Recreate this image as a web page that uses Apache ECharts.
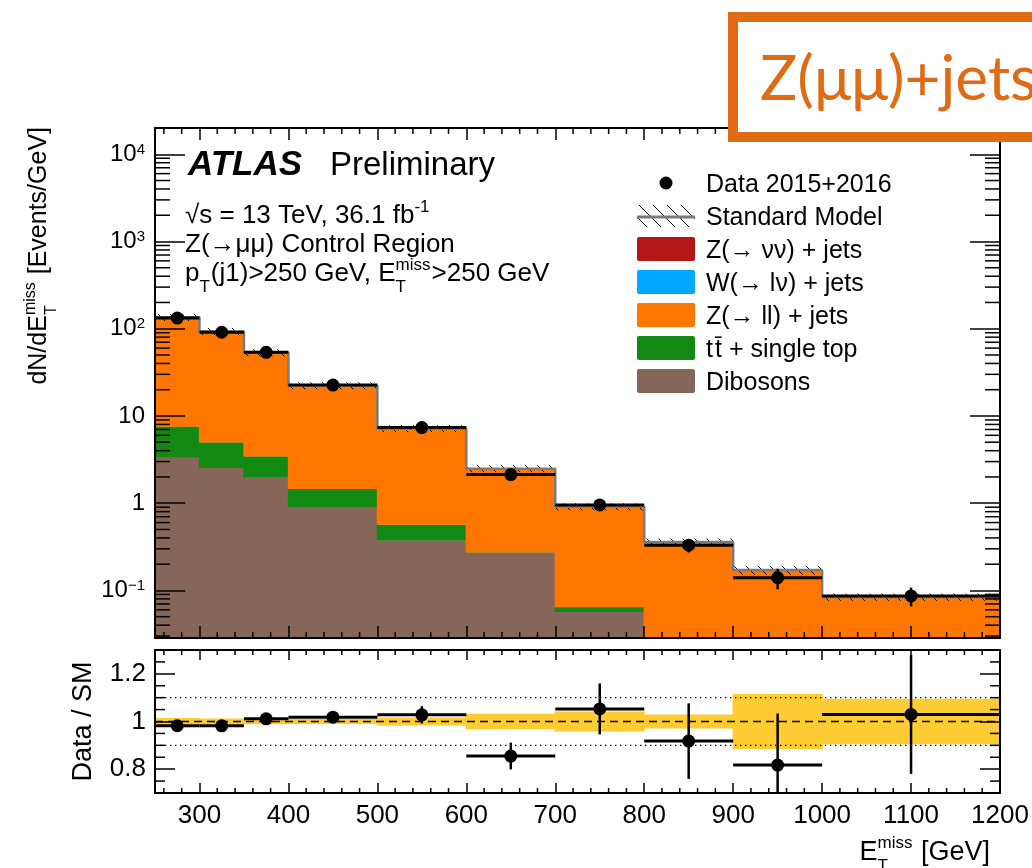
<!DOCTYPE html>
<html><head><meta charset="utf-8">
<script src="https://cdn.jsdelivr.net/npm/echarts@6/dist/echarts.min.js"></script>
<style>html,body{margin:0;padding:0;background:#fff}#c{width:1032px;height:868px}</style>
</head><body><div id="c"></div>
<script>
// ---------------- data ----------------
const binEdges = [250, 300, 350, 400, 500, 600, 700, 800, 900, 1000, 1200];
const diboson        = [3.39, 2.56, 1.97, 0.907, 0.377, 0.266, 0.057, 0.020, 0.012, 0.006];
const ttbarSingleTop = [4.21, 2.43, 1.48, 0.563, 0.193, 0.008, 0.0076, 0.004, 0.002, 0.001];
const zllJets        = [127.15, 87.76, 49.47, 20.70, 6.58, 2.213, 0.842, 0.335, 0.157, 0.077];
const wlnuJets       = [0.25, 0.15, 0.08, 0.03, 0.01, 0.004, 0.0015, 0.0006, 0.0003, 0.0001];
const znunuJets      = [0, 0, 0, 0, 0, 0, 0, 0, 0, 0];
const smRelUnc       = [0.015, 0.013, 0.012, 0.011, 0.017, 0.033, 0.042, 0.029, 0.115, 0.095];
const dataValues     = [132.6, 91.2, 53.6, 22.6, 7.36, 2.13, 0.956, 0.330, 0.140, 0.0866];
const dataErrors     = [1.6, 1.4, 1.0, 0.47, 0.26, 0.14, 0.097, 0.057, 0.037, 0.021];

const xTickValues = [300, 400, 500, 600, 700, 800, 900, 1000, 1100, 1200];
const xTickLabels = ['300', '400', '500', '600', '700', '800', '900', '1000', '1100', '1200'];
const logTickExponents = [-1, 0, 1, 2, 3, 4];
const logTickLabels = ['{b|10}{s|−1}', '{b|1}', '{b|10}', '{b|10}{s|2}', '{b|10}{s|3}', '{b|10}{s|4}'];
const ratioTickValues = [0.8, 1.0, 1.2];
const ratioTickLabels = ['0.8', '1', '1.2'];
const ratioMinorTicks = [0.75, 0.85, 0.9, 0.95, 1.05, 1.1, 1.15, 1.25];
const ratioRefLines = [1.0, 0.9, 1.1];

const legendLabels = ['Data 2015+2016', 'Standard Model', 'Z(→ νν) + jets', 'W(→ lν) + jets', 'Z(→ ll) + jets', 't\u200At\u0304 + single top', 'Dibosons'];

// ---------------- styling ----------------
const FONT = "'Liberation Sans', Arial, Helvetica, sans-serif";
const yMinMain = 0.0285, yMaxMain = 20000;
const components = [
  { name: 'Dibosons', color: '#87665a', values: diboson },
  { name: 'tt + single top', color: '#128912', values: ttbarSingleTop },
  { name: 'Z(ll)+jets', color: '#ff7700', values: zllJets },
  { name: 'W(lv)+jets', color: '#00a8ff', values: wlnuJets },
  { name: 'Z(vv)+jets', color: '#b31717', values: znunuJets }
];
const legendColors = [null, null, '#b31717', '#00a8ff', '#ff7700', '#128912', '#87665a'];

const nBins = binEdges.length - 1;
const centers = [], totals = [];
for (let i = 0; i < nBins; i++) {
  centers.push((binEdges[i] + binEdges[i + 1]) / 2);
  let s = 0; components.forEach(c => s += c.values[i]); totals.push(s);
}

// ---------------- helpers ----------------
function yPix(api, cs, v) {
  if (!(v > 0)) return cs.y + cs.height;
  const p = api.coord([binEdges[0], v])[1];
  return Math.max(cs.y - 10, Math.min(cs.y + cs.height, p));
}
function xPix(api, v) { return api.coord([v, 1])[0]; }

const series = [];
// stacked fills
let cum = new Array(nBins).fill(0);
components.forEach((c, k) => {
  const data = [];
  for (let i = 0; i < nBins; i++) {
    data.push([binEdges[i], binEdges[i + 1], cum[i], cum[i] + c.values[i]]);
    cum[i] += c.values[i];
  }
  series.push({
    type: 'custom', name: c.name, xAxisIndex: 0, yAxisIndex: 0, z: 2, clip: true,
    encode: { x: [0, 1], y: [2, 3] }, data,
    renderItem(params, api) {
      const cs = params.coordSys;
      const x0 = xPix(api, api.value(0)), x1 = xPix(api, api.value(1));
      const yl = yPix(api, cs, api.value(2)), yh = yPix(api, cs, api.value(3));
      if (yl - yh <= 0.01) return;
      return { type: 'rect', shape: { x: x0 - 0.6, y: yh, width: x1 - x0 + 1.2, height: yl - yh + 0.3 }, style: { fill: c.color } };
    }
  });
});

// hatched SM uncertainty band (main)
series.push({
  type: 'custom', xAxisIndex: 0, yAxisIndex: 0, z: 3, clip: true,
  encode: { x: [0, 1], y: 2 },
  data: totals.map((t, i) => [binEdges[i], binEdges[i + 1], t, smRelUnc[i]]),
  renderItem(params, api) {
    const cs = params.coordSys;
    const x0 = xPix(api, api.value(0)), x1 = xPix(api, api.value(1));
    const t = api.value(2), u = api.value(3);
    const yc = yPix(api, cs, t);
    let yt = yPix(api, cs, t * (1 + u)), yb = yPix(api, cs, t * (1 - u));
    if (yc - yt < 3.5) yt = yc - 3.5;
    if (yb - yc < 3.5) yb = yc + 3.5;
    const sp = 12, children = [];
    for (let cc = Math.ceil((yt - x1) / sp) * sp; cc <= yb - x0; cc += sp) {
      const xa = Math.max(x0, yt - cc), xb = Math.min(x1, yb - cc);
      if (xb > xa) children.push({ type: 'line', shape: { x1: xa, y1: xa + cc, x2: xb, y2: xb + cc }, style: { stroke: '#000', lineWidth: 1 } });
    }
    return { type: 'group', children };
  }
});

// SM total outline
const totLine = totals.map((t, i) => [binEdges[i], t]);
totLine.push([binEdges[nBins], totals[nBins - 1]]);
series.push({
  type: 'line', xAxisIndex: 0, yAxisIndex: 0, z: 4, step: 'end', symbol: 'none',
  data: totLine, lineStyle: { color: '#7a7a7a', width: 2.5 }, silent: true
});

function dataBarsSeries(xi, yi, vals, errs) {
  return {
    type: 'custom', xAxisIndex: xi, yAxisIndex: yi, z: 5, clip: true,
    encode: { x: [0, 1], y: 3 },
    data: vals.map((v, i) => [binEdges[i], binEdges[i + 1], centers[i], v, errs[i]]),
    renderItem(params, api) {
      const cs = params.coordSys;
      const x0 = xPix(api, api.value(0)), x1 = xPix(api, api.value(1)), xc = xPix(api, api.value(2));
      const v = api.value(3), e = api.value(4);
      const yc = api.coord([api.value(2), v])[1];
      const yt = yPix(api, cs, v + e), yb = yPix(api, cs, v - e);
      return { type: 'group', children: [
        { type: 'line', shape: { x1: x0, y1: yc, x2: x1, y2: yc }, style: { stroke: '#000', lineWidth: 3 } },
        { type: 'line', shape: { x1: xc, y1: yt, x2: xc, y2: yb }, style: { stroke: '#000', lineWidth: 2.5 } }
      ] };
    }
  };
}
series.push(dataBarsSeries(0, 0, dataValues, dataErrors));
series.push({
  type: 'scatter', xAxisIndex: 0, yAxisIndex: 0, z: 6, symbol: 'circle', symbolSize: 13,
  itemStyle: { color: '#000', opacity: 1 }, data: dataValues.map((v, i) => [centers[i], v]), silent: true
});

// ratio panel
const ratio = dataValues.map((v, i) => v / totals[i]);
const ratioErr = dataErrors.map((e, i) => e / totals[i]);
series.push({
  type: 'custom', xAxisIndex: 2, yAxisIndex: 2, z: 2, clip: true,
  encode: { x: [0, 1], y: [2, 3] },
  data: smRelUnc.map((u, i) => [binEdges[i], binEdges[i + 1], 1 - u, 1 + u]),
  renderItem(params, api) {
    const x0 = xPix(api, api.value(0)), x1 = xPix(api, api.value(1));
    const yl = api.coord([api.value(0), api.value(2)])[1], yh = api.coord([api.value(0), api.value(3)])[1];
    return { type: 'rect', shape: { x: x0 - 0.6, y: yh, width: x1 - x0 + 1.2, height: yl - yh }, style: { fill: '#ffcc33' } };
  }
});
series.push({
  type: 'custom', xAxisIndex: 2, yAxisIndex: 2, z: 3, clip: true,
  encode: { x: 0, y: 1 },
  data: ratioRefLines.map((v, i) => [binEdges[0], v, i === 0 ? 1 : 0]),
  renderItem(params, api) {
    const cs = params.coordSys;
    const y = api.coord([binEdges[0], api.value(1)])[1];
    const dashed = api.value(2) === 1;
    return { type: 'line', shape: { x1: cs.x, y1: y, x2: cs.x + cs.width, y2: y },
      style: { stroke: '#000', lineWidth: dashed ? 1.6 : 1.4, lineDash: dashed ? [8, 5] : [1.4, 3.6] } };
  }
});
series.push(dataBarsSeries(2, 2, ratio, ratioErr));
series.push({
  type: 'scatter', xAxisIndex: 2, yAxisIndex: 2, z: 6, symbol: 'circle', symbolSize: 13,
  itemStyle: { color: '#000', opacity: 1 }, data: ratio.map((v, i) => [centers[i], v]), silent: true
});

// minor ticks
const xMinor = [];
for (let v = binEdges[0] + 10; v < binEdges[nBins]; v += 20) if (v % 100 !== 0) xMinor.push(v);
const logMinor = [];
for (let k = -2; k <= 4; k++) for (let m = 2; m <= 9; m++) { const v = m * Math.pow(10, k); if (v > yMinMain && v < yMaxMain) logMinor.push(v); }

function yMinorSeries(xi, yi, vals, L) {
  return {
    type: 'custom', xAxisIndex: xi, yAxisIndex: yi, z: 11, silent: true,
    encode: { x: 0, y: 1 }, data: vals.map(v => [binEdges[0], v]),
    renderItem(params, api) {
      const cs = params.coordSys;
      const y = api.coord([binEdges[0], api.value(1)])[1];
      if (y < cs.y || y > cs.y + cs.height) return;
      return { type: 'group', children: [
        { type: 'line', shape: { x1: cs.x, y1: y, x2: cs.x + L, y2: y }, style: { stroke: '#000', lineWidth: 1.5 } },
        { type: 'line', shape: { x1: cs.x + cs.width, y1: y, x2: cs.x + cs.width - L, y2: y }, style: { stroke: '#000', lineWidth: 1.5 } }
      ] };
    }
  };
}
function xMinorSeries(xi, yi, L, yRef) {
  return {
    type: 'custom', xAxisIndex: xi, yAxisIndex: yi, z: 11, silent: true,
    encode: { x: 0, y: 1 }, data: xMinor.map(v => [v, yRef]),
    renderItem(params, api) {
      const cs = params.coordSys;
      const x = xPix(api, api.value(0));
      return { type: 'group', children: [
        { type: 'line', shape: { x1: x, y1: cs.y + cs.height, x2: x, y2: cs.y + cs.height - L }, style: { stroke: '#000', lineWidth: 1.5 } },
        { type: 'line', shape: { x1: x, y1: cs.y, x2: x, y2: cs.y + L }, style: { stroke: '#000', lineWidth: 1.5 } }
      ] };
    }
  };
}
series.push(yMinorSeries(0, 0, logMinor, 15));
series.push(xMinorSeries(0, 0, 6, 1));
series.push(yMinorSeries(2, 2, ratioMinorTicks, 10));
series.push(xMinorSeries(2, 2, 5, 1));

// ---------------- axes ----------------
function xAx(grid, pos, tickLen, labels) {
  return {
    gridIndex: grid, type: 'value', position: pos, min: binEdges[0], max: binEdges[nBins],
    splitNumber: 10, minInterval: 100, maxInterval: 100, z: 10,
    splitLine: { show: false }, minorTick: { show: false },
    axisLine: { show: true, onZero: false, lineStyle: { color: '#000', width: 2 } },
    axisTick: { show: true, inside: true, length: tickLen, lineStyle: { color: '#000', width: 1.5 } },
    axisLabel: labels ? {
      show: true, interval: 0, fontSize: 26, color: '#000', fontFamily: FONT, margin: 10,
      showMinLabel: false, showMaxLabel: true,
      formatter: v => { const k = xTickValues.findIndex(t => Math.abs(t - v) < 1e-6); return k < 0 ? '' : xTickLabels[k]; }
    } : { show: false }
  };
}
const logFmt = v => {
  const e = Math.log10(v), r = Math.round(e);
  if (Math.abs(e - r) > 1e-6) return '';
  const k = logTickExponents.indexOf(r); return k < 0 ? '' : logTickLabels[k];
};
function yMain(pos, labels) {
  return {
    gridIndex: 0, type: 'log', logBase: 10, min: yMinMain, max: yMaxMain, position: pos, z: 10,
    splitLine: { show: false }, minorTick: { show: false },
    axisLine: { show: true, onZero: false, lineStyle: { color: '#000', width: 2 } },
    axisTick: { show: true, inside: true, length: 30, lineStyle: { color: '#000', width: 1.5 } },
    axisLabel: labels ? {
      show: true, interval: 0, color: '#000', fontFamily: FONT, fontSize: 24, margin: 10,
      showMinLabel: false, showMaxLabel: false, formatter: logFmt,
      rich: {
        b: { fontSize: 24, fontFamily: FONT, color: '#000', lineHeight: 24, verticalAlign: 'bottom' },
        s: { fontSize: 15, fontFamily: FONT, color: '#000', lineHeight: 15, verticalAlign: 'top', padding: [0, 0, 8, 0] }
      }
    } : { show: false }
  };
}
function yRatio(pos, labels) {
  return {
    gridIndex: 1, type: 'value', min: 0.7, max: 1.3, splitNumber: 3, minInterval: 0.2, maxInterval: 0.2,
    position: pos, z: 10, splitLine: { show: false }, minorTick: { show: false },
    axisLine: { show: true, onZero: false, lineStyle: { color: '#000', width: 2 } },
    axisTick: { show: true, inside: true, length: 20, lineStyle: { color: '#000', width: 1.5 } },
    name: labels ? 'Data / SM' : '', nameLocation: 'middle', nameGap: 58, nameRotate: 90,
    nameTextStyle: { fontSize: 27, color: '#000', fontFamily: FONT },
    axisLabel: labels ? {
      show: true, interval: 0, color: '#000', fontFamily: FONT, fontSize: 26, margin: 9,
      showMinLabel: false, showMaxLabel: false,
      formatter: v => { const k = ratioTickValues.findIndex(t => Math.abs(t - v) < 1e-6); return k < 0 ? '' : ratioTickLabels[k]; }
    } : { show: false }
  };
}

// ---------------- text helpers ----------------
const mctx = document.createElement('canvas').getContext('2d');
function tw(t, fs, pre) { mctx.font = (pre ? pre + ' ' : '') + fs + 'px ' + FONT; return mctx.measureText(t).width; }
function txt(x, base, fs, t, pre, z) {
  return { type: 'text', x, y: base - 0.24 * fs, z: z || 50,
    style: { text: t, font: (pre ? pre + ' ' : '') + fs + 'px ' + FONT, fill: '#000',
      align: 'left', verticalAlign: 'middle', textAlign: 'left', textVerticalAlign: 'middle' } };
}
function compose(x0, base, fs, pieces) {
  const els = []; let x = x0; const sfs = Math.round(fs * 0.64);
  pieces.forEach(p => {
    if (typeof p === 'string') { els.push(txt(x, base, fs, p)); x += tw(p, fs); }
    else {
      let w = 0;
      if (p.sup) { els.push(txt(x, base - 0.42 * fs, sfs, p.sup)); w = Math.max(w, tw(p.sup, sfs)); }
      if (p.sub) { els.push(txt(x, base + 0.42 * fs, sfs, p.sub)); w = Math.max(w, tw(p.sub, sfs)); }
      x += w + 1;
    }
  });
  return { els, width: x - x0 };
}

const graphics = [];
// title box
graphics.push({ type: 'rect', z: 100, shape: { x: 733, y: 17, width: 420, height: 120 },
  style: { fill: '#fff', stroke: '#e06b12', lineWidth: 10 } });
graphics.push({ type: 'text', z: 101, x: 760, y: 80,
  style: { text: 'Z(μμ)+jets', font: "62px Lato, 'Open Sans', sans-serif", fill: '#e06b12',
    align: 'left', verticalAlign: 'middle', textAlign: 'left', textVerticalAlign: 'middle' } });

// ATLAS label
graphics.push(txt(188, 174, 35, 'ATLAS', 'italic bold'));
graphics.push(txt(330, 174, 33, 'Preliminary'));
compose(185, 222, 26, ['√s = 13 TeV, 36.1 fb', { sup: '-1' }]).els.forEach(e => graphics.push(e));
compose(185, 251, 26, ['Z(→μμ) Control Region']).els.forEach(e => graphics.push(e));
compose(185, 280, 26, ['p', { sub: 'T' }, '(j1)>250 GeV, E', { sup: 'miss', sub: 'T' }, '>250 GeV']).els.forEach(e => graphics.push(e));

// legend
const legY = [183, 216, 249, 282, 315, 348, 381];
legendLabels.forEach((lab, i) => {
  graphics.push({ type: 'text', x: 706, y: legY[i] + 2, z: 50,
    style: { text: lab, font: '25px ' + FONT, fill: '#000', align: 'left', verticalAlign: 'middle', textAlign: 'left', textVerticalAlign: 'middle' } });
  if (i === 0) {
    graphics.push({ type: 'circle', z: 50, shape: { cx: 666, cy: legY[i], r: 6.5 }, style: { fill: '#000' } });
  } else if (i === 1) {
    const x0 = 637, x1 = 695, yt = legY[i] - 11, yb = legY[i] + 11, sp = 14;
    for (let cc = Math.ceil((yt - x1) / sp) * sp; cc <= yb - x0; cc += sp) {
      const xa = Math.max(x0, yt - cc), xb = Math.min(x1, yb - cc);
      if (xb > xa) graphics.push({ type: 'line', z: 50, shape: { x1: xa, y1: xa + cc, x2: xb, y2: xb + cc }, style: { stroke: '#000', lineWidth: 1 } });
    }
    graphics.push({ type: 'line', z: 51, shape: { x1: x0, y1: legY[i] + 1, x2: x1, y2: legY[i] + 1 }, style: { stroke: '#7a7a7a', lineWidth: 3 } });
  } else {
    graphics.push({ type: 'rect', z: 50, shape: { x: 637, y: legY[i] - 12, width: 58, height: 24, r: 2 }, style: { fill: legendColors[i] } });
  }
});

// x axis title (right aligned at 990)
(function () {
  const fs = 27;
  const probe = compose(0, 0, fs, ['E', { sup: 'miss', sub: 'T' }, ' [GeV]']);
  compose(990 - probe.width, 859, fs, ['E', { sup: 'miss', sub: 'T' }, ' [GeV]']).els.forEach(e => graphics.push(e));
})();
// y axis title (rotated, ending at frame top)
(function () {
  const fs = 25;
  const c = compose(0, 0, fs, ['dN/dE', { sup: 'miss', sub: 'T' }, ' [Events/GeV]']);
  c.els.forEach(e => { e.x -= c.width; });
  graphics.push({ type: 'group', x: 45, y: 127, rotation: Math.PI / 2, children: c.els, z: 50 });
})();

const option = {
  animation: false,
  backgroundColor: '#fff',
  textStyle: { fontFamily: FONT },
  grid: [
    { left: 155, top: 128, width: 845, height: 510, containLabel: false, outerBoundsMode: 'none' },
    { left: 155, top: 650, width: 845, height: 143, containLabel: false, outerBoundsMode: 'none' }
  ],
  xAxis: [xAx(0, 'bottom', 12, false), xAx(0, 'top', 12, false), xAx(1, 'bottom', 10, true), xAx(1, 'top', 10, false)],
  yAxis: [yMain('left', true), yMain('right', false), yRatio('left', true), yRatio('right', false)],
  series,
  graphic: { elements: graphics }
};
const chart = echarts.init(document.getElementById('c'), null, { renderer: 'canvas', width: 1032, height: 868 });
chart.setOption(option);
</script>
</body></html>
